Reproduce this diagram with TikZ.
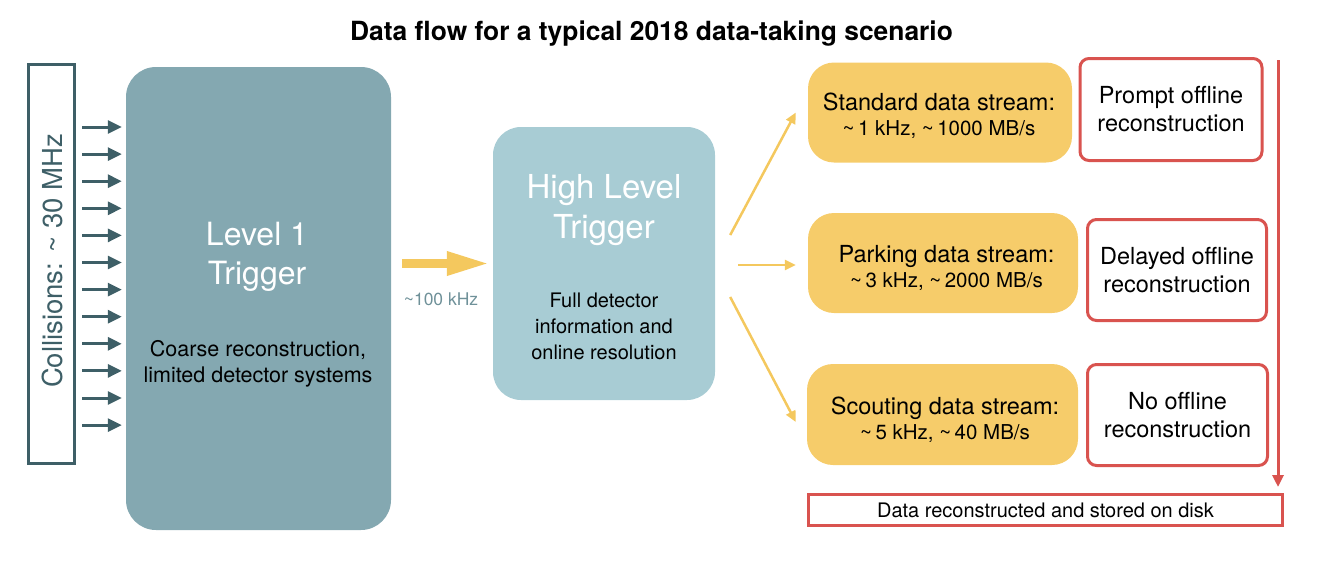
\documentclass[tikz,border=0pt]{standalone}
\usepackage{fontspec}
\setmainfont{TeX Gyre Heros}
\usetikzlibrary{arrows.meta,calc}
\definecolor{teald}{HTML}{3E5F67}
\definecolor{lonecol}{HTML}{84A8B1}
\definecolor{hltcol}{HTML}{A8CCD4}
\definecolor{ylw}{HTML}{F6CC6A}
\definecolor{ylwarr}{HTML}{F4C85E}
\definecolor{redc}{HTML}{D9534F}
\definecolor{khzcol}{HTML}{6F9199}
\newcommand\fsz[2]{\fontsize{#1}{#2}\selectfont}
\begin{document}
\begin{tikzpicture}[x=1pt,y=-1pt,
  collbox/.style={draw=teald,line width=3pt,minimum width=46pt,minimum height=399pt,inner sep=0pt},
  inarrow/.style={teald,line width=3pt,-{Triangle[length=14pt,width=13pt]}},
  lonebox/.style={fill=lonecol,rounded corners=30pt,minimum width=265pt,minimum height=463pt,inner sep=0pt},
  hltbox/.style={fill=hltcol,rounded corners=28pt,minimum width=222pt,minimum height=273pt,inner sep=0pt},
  streambox/.style={fill=ylw,rounded corners=26pt,inner sep=0pt},
  streamtext/.style={text=black,align=center,inner sep=0pt,font=\fsz{23.5}{25}},
  recobox/.style={draw=redc,line width=3pt,rounded corners=9pt,fill=white,inner sep=0pt,align=center,font=\fsz{23.5}{28}},
  whitetitle/.style={text=white,align=center,inner sep=0pt},
  bodytext/.style={text=black,align=center,inner sep=0pt},
  bigarrow/.style={ylwarr,line width=9pt,-{Triangle[length=43pt,width=22pt]}},
  thinarrow/.style={ylwarr,line width=2.5pt,-{Triangle[length=11pt,width=10pt]}},
  redarrow/.style={redc,line width=3pt,-{Triangle[length=12pt,width=11pt]}}
]
\useasboundingbox (0,0) rectangle (1325,579);

% title
\node[anchor=base,inner sep=0pt,font=\bfseries\fsz{26.4}{30}] (title) at (651.5,40) {Data flow for a typical 2018 data-taking scenario};

% collisions
\node[collbox] (coll) at (51.5,264) {};
\node[rotate=90,inner sep=0pt,font=\fsz{27.5}{30},text=teald] (colltxt) at (52,261) {Collisions: \textasciitilde\ 30 MHz};

% level 1
\node[lonebox] (l1) at (258.5,298.5) {};
\node[whitetitle,font=\fsz{32}{39}] (l1title) at (257,256.5) {Level 1\\Trigger};
\node[bodytext,font=\fsz{21.5}{26}] (l1sub) at (258,363.5) {Coarse reconstruction,\\limited detector systems};

% input arrows
\foreach \i in {0,...,11}{
  \pgfmathsetmacro{\yy}{127+27.1*\i}
  \draw[inarrow,shorten <=6pt,shorten >=4pt] (coll.east |- 0,\yy) -- (l1.west |- 0,\yy);
}

% HLT
\node[hltbox] (hlt) at (604,263.5) {};
\node[whitetitle,font=\fsz{33}{40}] (hlttitle) at (604,210.5) {High Level\\Trigger};
\node[bodytext,font=\fsz{20}{26}] (hltsub) at (604,326.5) {Full detector\\information and\\online resolution};

\draw[bigarrow,shorten <=11pt,shorten >=3pt] (l1.east |- hlt.west) -- (hlt.west);
\node[anchor=base,inner sep=0pt,text=khzcol,font=\fsz{17.5}{20}] (khz) at (441,305) {\textasciitilde100 kHz};

% streams
\node[streambox,minimum width=264pt,minimum height=100pt] (std) at (940,112.5) {};
\node[streamtext] (stdtxt) at (939,116) {Standard data stream:\\\fsz{20.5}{25}\textasciitilde\,1 kHz, \textasciitilde\,1000 MB/s};
\node[streambox,minimum width=270pt,minimum height=100pt] (park) at (943,263) {};
\node[streamtext] (parktxt) at (946.5,268) {Parking data stream:\\\fsz{20.5}{25}\textasciitilde\,3 kHz, \textasciitilde\,2000 MB/s};
\node[streambox,minimum width=271pt,minimum height=101pt] (scout) at (942.5,414.5) {};
\node[streamtext] (scouttxt) at (945,419.5) {Scouting data stream:\\\fsz{20.5}{25}\textasciitilde\,5 kHz, \textasciitilde\,40 MB/s};

\draw[thinarrow] ($(hlt.east)+(15,-28.5)$) -- ($(std.west)+(-12,0)$);
\draw[thinarrow] ($(hlt.east)+(23,1.5)$) -- ($(park.west)+(-12,2)$);
\draw[thinarrow] ($(hlt.east)+(15,33.5)$) -- ($(scout.west)+(-11,7.5)$);

% reconstruction boxes
\node[recobox,minimum width=182pt,minimum height=102pt] (prompt) at (1171,109.5) {Prompt offline\\reconstruction};
\node[recobox,minimum width=179pt,minimum height=101pt] (delayed) at (1177,270) {Delayed offline\\reconstruction};
\node[recobox,minimum width=180pt,minimum height=101pt] (nooff) at (1177.5,415) {No offline\\reconstruction};

% bottom box
\node[draw=redc,line width=3pt,minimum width=474pt,minimum height=31pt,inner sep=0pt,font=\fsz{20}{24}] (disk) at (1045.5,510) {Data reconstructed and stored on disk};

\coordinate (rtop) at (1278,60);
\draw[redarrow] (rtop) -- ([yshift=6pt]disk.north -| rtop);
\end{tikzpicture}
\end{document}
